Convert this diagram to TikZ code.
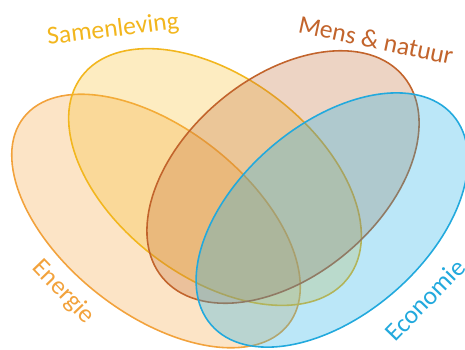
\documentclass[tikz,border=0pt]{standalone}
\usepackage{fontspec}
\setmainfont{Carlito}
\usepackage{tikz}
\definecolor{energie}{HTML}{F2A23C}
\definecolor{energiefill}{HTML}{F5A742}
\definecolor{samen}{HTML}{F2B61E}
\definecolor{samenfill}{HTML}{F7C131}
\definecolor{mens}{HTML}{C2642C}
\definecolor{mensfill}{HTML}{C5703A}
\definecolor{econ}{HTML}{22A9DD}
\definecolor{econfill}{HTML}{1FB0E8}
\tikzstyle{setshape} = [line width=0.9pt, fill opacity=0.3]
\tikzstyle{setlabel} = [font=\fontsize{14.6}{17}\selectfont, inner sep=0pt]

\begin{document}
\begin{tikzpicture}[x=0.02cm, y=-0.02cm]
    \useasboundingbox (0,0) rectangle (465,349);
    % the four sets
    \draw [setshape, draw=energie, fill=energiefill, rotate around={-38:(156,221)}] (156,221) ellipse (168 and 93);
    \draw [setshape, draw=samen, fill=samenfill, rotate around={-37:(215,177)}] (215,177) ellipse (167 and 100);
    \draw [setshape, draw=mens, fill=mensfill, rotate around={40:(283,177)}] (283,177) ellipse (157 and 99);
    \draw [setshape, draw=econ, fill=econfill, rotate around={41:(332,220)}] (332,220) ellipse (160 and 95);
    % labels
    \node (samenleving) [setlabel, text=samen, rotate=7] at (113,30) {Samenleving};
    \node (mensnatuur) [setlabel, text=mens, rotate=-12] at (376,40) {Mens \& natuur};
    \node (energie) [setlabel, text=energie, rotate=-46] at (63,292) {Energie};
    \node (economie) [setlabel, text=econ, rotate=46] at (425,300) {Economie};
\end{tikzpicture}
\end{document}
